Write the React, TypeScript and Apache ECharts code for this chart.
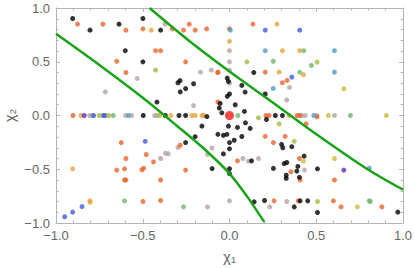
import React, { useEffect, useRef } from "react";
import * as echarts from "echarts";

type P = [number, number];

const tickValues = [-1, -0.5, 0, 0.5, 1];
const xName = "χ₁";
const yName = "χ₂";

const blackPts: P[] = [
  [-0.904, 0.902], [-0.804, 0.794], [-0.637, 0.85], [-0.601, 0.603], [-0.499, 0.902],
  [-0.397, 0.794], [-0.499, 0.499], [-0.285, 0.325], [-0.297, 0.305], [-0.207, 0.295],
  [-0.253, 0.25], [-0.284, 0.22], [-0.013, 0.348], [-0.006, 0.317], [0.071, 0.28],
  [0.09, 0.218], [0, 0.2], [-0.013, 0.178], [0.206, 0.2], [0.14, 0.4],
  [-0.418, 0.125], [-0.054, 0.112], [0.033, 0.1], [-0.059, 0.07], [-0.044, 0.025],
  [0.086, 0.038], [-0.497, 0], [-0.37, 0], [-0.291, 0], [-0.253, 0], [-0.13, -0.01],
  [0.264, 0], [0.305, 0], [-0.159, -0.099], [-0.006, -0.099], [0.046, -0.111],
  [0.092, -0.068], [0.119, -0.12], [0.213, -0.037], [-0.198, -0.197], [-0.067, -0.175],
  [-0.035, -0.185], [-0.015, -0.175], [0.071, -0.195], [0.027, -0.23], [0, -0.252],
  [-0.253, -0.252], [0.3, -0.268], [0.307, -0.3], [0.359, -0.29], [0, -0.31],
  [-0.035, -0.357], [0.43, -0.378], [0.127, -0.422], [0.33, -0.437], [0.315, -0.447],
  [0.394, -0.474], [0.253, -0.492], [0.388, -0.517], [-0.1, -0.494], [0, -0.495],
  [0, -0.54], [0.327, -0.555], [0.327, -0.585], [0.403, -0.575], [0.507, -0.496],
  [0.142, -0.803], [0.202, -0.791], [0.407, -0.794], [0.451, -0.794], [0.373, -0.85],
  [0.507, -0.902], [0.97, -0.899],
];

const orangePts: P[] = [
  [-0.876, 0.85], [-0.73, 0.85], [-0.597, 0.794], [-0.65, 0.505], [-0.597, 0.4],
  [-0.499, 0.806], [-0.33, 0.806], [-0.232, 0.85], [-0.265, 0.794], [-0.198, 0.794],
  [-0.132, 0.806], [0, 0.806], [0.135, 0.85], [-0.426, 0.603], [-0.397, 0.603],
  [-0.253, 0.499], [-0.067, 0.403], [0.206, 0.403], [-0.067, 0.126], [0.332, 0.326],
  [0.305, 0.305], [-0.902, 0], [0.21, 0], [0.228, 0], [0.39, 0], [0.405, 0], [0.505, -0.012],
  [0.442, -0.078], [-0.624, -0.252], [-0.597, -0.4], [-0.65, -0.508], [-0.605, -0.496],
  [-0.605, -0.6], [-0.597, -0.6], [-0.505, -0.505], [-0.495, -0.49], [-0.48, -0.363],
  [-0.438, -0.431], [-0.397, -0.6], [-0.499, -0.8], [-0.397, -0.791], [-0.253, -0.508],
  [0.206, -0.194], [0.321, -0.194], [0.253, -0.252], [0.403, -0.4], [0.354, -0.523],
  [0.407, -0.6], [0.046, -0.422], [0.605, -0.6], [0.257, -0.794], [0.396, -0.794],
  [0.599, -0.794], [0.643, -0.85], [0.878, -0.85], [-0.284, -0.277], [-0.067, 0.4],
];

const goldPts: P[] = [
  [0.273, 0.85], [-0.451, 0.794], [0, 0.69], [0.305, 0.603], [0.405, 0.603],
  [0.286, 0.403], [0.426, 0.379], [-0.904, -0.496], [-0.804, -0.794], [-0.804, -0.806],
  [-0.856, 0], [-0.338, 0], [-0.217, 0], [-0.198, 0], [-0.159, 0], [-0.146, 0], [0.344, 0],
];

const grayPts: P[] = [
  [-0.532, 0.345], [-0.716, 0.22], [-0.372, 0.85], [0, 0.603], [0, 0.499],
  [-0.167, 0.403], [-0.105, 0.422], [0, 0.422], [0, 0.3], [0.346, 0.261],
  [-0.207, 0.092], [0.33, 0.145], [-0.806, 0], [-0.793, 0], [-0.599, 0], [-0.564, 0],
  [-0.432, 0], [-0.418, 0], [0.417, 0], [0.436, 0], [0.503, 0], [0.605, 0],
  [-0.297, -0.298], [-0.369, -0.351], [-0.353, -0.357], [-0.397, -0.4], [-0.101, -0.302],
  [-0.127, -0.363], [0.077, -0.4], [0.109, -0.425], [0.167, -0.4], [0.432, -0.508],
  [-0.127, -0.85], [0, -0.794], [0.33, -0.8], [0.232, -0.85],
];

const bluePts: P[] = [
  [0.405, 0.794], [0.206, 0.794], [0.359, 0.357], [-0.486, -0.24], [-0.85, -0.847],
  [-0.904, -0.899], [-0.95, -0.942], [-0.783, 0], [-0.729, 0], [-0.716, 0],
];

const purplePts: P[] = [[-0.837, 0], [0.659, -0.508]];

const tealPts: P[] = [
  [0.005, 0.794], [0.206, 0.603], [0.605, 0.603], [0.605, 0.403], [0.252, 0.252],
  [-0.582, 0], [0.486, 0], [0.806, -0.49],
];

const greenPts: P[] = [
  [0.048, 0], [0.252, 0.505], [0.405, 0.403], [0.428, 0.603], [0.472, 0.465],
  [-0.67, 0], [0.697, 0], [-0.265, -0.85], [-0.605, -0.794], [0.805, -0.794], [0.812, -0.8],
];

const yellowGreenPts: P[] = [
  [-0.426, 0.422], [0.1, 0.499], [0.505, 0.496], [-0.751, 0], [-0.695, 0], [-0.403, 0],
  [0.167, -0.022], [0.286, -0.078], [0.373, -0.24], [0.507, -0.8],
];

const yellowPts: P[] = [
  [0.57, 0], [0.904, 0], [0.659, 0.249], [0.605, -0.4], [0.737, -0.85], [0.426, -0.425],
];

const centerPt: P[] = [[0, 0]];

const curveA: P[] = [
  [-1, 0.76], [-0.75, 0.47], [-0.5, 0.165], [-0.3, -0.1], [-0.15, -0.305],
  [0, -0.54], [0.1, -0.75], [0.2, -0.99],
];

const curveB: P[] = [
  [-0.461, 1.0], [-0.226, 0.686], [0, 0.409], [0.253, 0.117], [0.484, -0.155],
  [0.791, -0.495], [1.0, -0.69],
];

const groups: { data: P[]; color: string }[] = [
  { data: grayPts, color: "#b5a4a1" },
  { data: goldPts, color: "#e6a23c" },
  { data: orangePts, color: "#e8642c" },
  { data: bluePts, color: "#3f5cd4" },
  { data: purplePts, color: "#5b2fb0" },
  { data: tealPts, color: "#4f9ec0" },
  { data: greenPts, color: "#6fb56e" },
  { data: yellowGreenPts, color: "#a6b941" },
  { data: yellowPts, color: "#cbbb3c" },
  { data: blackPts, color: "#000000" },
];

const fmt = (v: number) => (v < 0 ? "−" : "") + Math.abs(v).toFixed(1);

export default function App() {
  const ref = useRef<HTMLDivElement>(null);
  useEffect(() => {
    if (!ref.current) return;
    const chart = echarts.init(ref.current, undefined, { renderer: "svg" });
    const frame = "#b4b4b4";
    const labelColor = "#666666";
    const font = "Liberation Sans";
    const mkAxis = (pos: string, showLabel: boolean, name?: string, isY?: boolean) => ({
      type: "value",
      position: pos,
      min: tickValues[0],
      max: tickValues[tickValues.length - 1],
      interval: 0.5,
      name: name,
      nameLocation: "middle",
      nameGap: isY ? 39 : 26,
      nameRotate: isY ? 90 : 0,
      nameMoveOverlap: false,
      nameTextStyle: { color: labelColor, fontSize: 15, fontFamily: font },
      axisLine: { show: true, onZero: false, lineStyle: { color: frame, width: 1 } },
      axisTick: { show: true, inside: true, length: 4, lineStyle: { color: frame } },
      minorTick: { show: true, splitNumber: 5, length: 2.5, lineStyle: { color: frame } },
      axisLabel: {
        show: showLabel,
        formatter: fmt,
        color: labelColor,
        fontSize: 13,
        fontFamily: font,
        margin: 6,
      },
      splitLine: { show: false },
      minorSplitLine: { show: false },
    });
    chart.setOption({
      animation: false,
      grid: {
        left: 56,
        top: 8,
        width: 347,
        height: 215,
        containLabel: false,
        outerBoundsMode: "none",
      },
      xAxis: [mkAxis("bottom", true, xName, false), mkAxis("top", false)],
      yAxis: [mkAxis("left", true, yName, true), mkAxis("right", false)],
      series: [
        ...groups.map((g) => ({
          type: "scatter",
          xAxisIndex: 0,
          yAxisIndex: 0,
          data: g.data,
          symbolSize: 5,
          itemStyle: { color: g.color },
          silent: true,
        })),
        ...[curveA, curveB].map((c) => ({
          type: "line",
          xAxisIndex: 0,
          yAxisIndex: 0,
          data: c,
          smooth: 0.3,
          showSymbol: false,
          symbol: "none",
          lineStyle: { color: "#17a317", width: 2.5 },
          silent: true,
        })),
        {
          type: "scatter",
          data: centerPt,
          symbolSize: 9,
          itemStyle: { color: "#ff1a1a" },
          silent: true,
        },
      ],
    });
    return () => chart.dispose();
  }, []);
  return (
    <div
      ref={ref}
      style={{ position: "fixed", left: 0, top: 0, width: 415, height: 268, background: "#fff" }}
    />
  );
}
